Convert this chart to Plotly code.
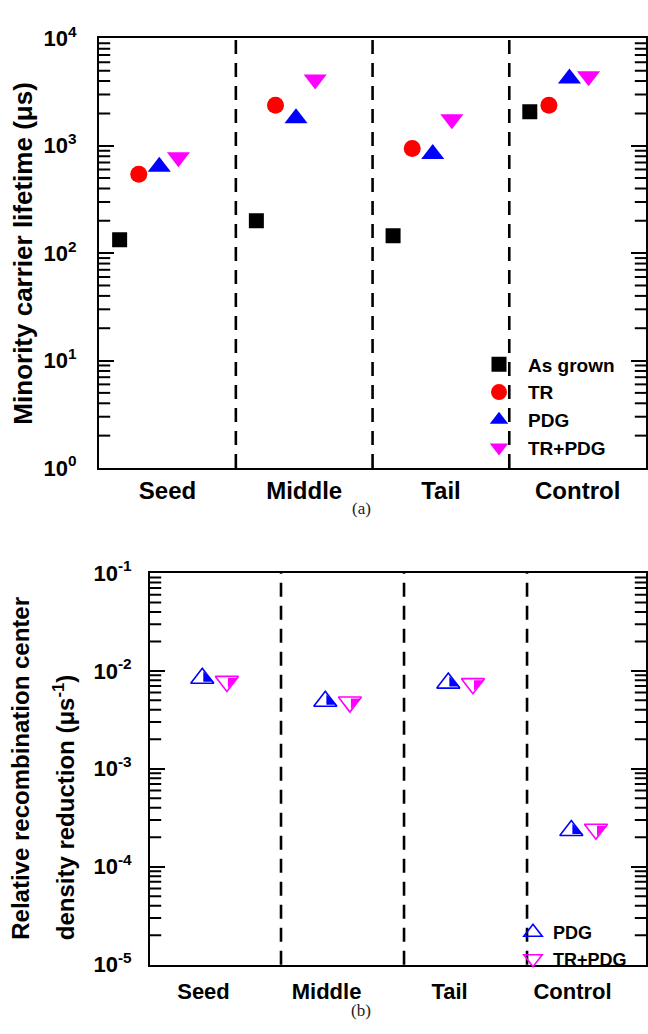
import numpy as np
import plotly.graph_objects as go

# ---------------- data ----------------
categories = ["Seed", "Middle", "Tail", "Control"]

# (a) minority carrier lifetime (us)
as_grown = [133, 200, 145, 2070]
tr = [542, 2380, 945, 2380]
pdg = [636, 1800, 839, 4230]
tr_pdg = [783, 4140, 1763, 4440]

# (b) relative recombination center density reduction (us^-1)
pdg_rel = [8.4e-3, 4.9e-3, 7.5e-3, 2.34e-4]
tr_pdg_rel = [7.8e-3, 4.8e-3, 7.4e-3, 2.41e-4]

top_ticks = [1, 10, 100, 1000, 10000]
top_ticktext = ["10<sup>0</sup>", "10<sup>1</sup>", "10<sup>2</sup>", "10<sup>3</sup>", "10<sup>4</sup>"]
bot_ticks = [1e-5, 1e-4, 1e-3, 1e-2, 1e-1]
bot_ticktext = ["10<sup>-5</sup>", "10<sup>-4</sup>", "10<sup>-3</sup>", "10<sup>-2</sup>", "10<sup>-1</sup>"]

# minor ticks at 2..9 within each decade
top_minor = [float(m * t) for t in top_ticks[:-1] for m in range(2, 10)]
bot_minor = [float(m * t) for t in bot_ticks[:-1] for m in range(2, 10)]

# ---------------- layout geometry ----------------
W, H = 648, 1034
FONT = "Liberation Sans, Arial, sans-serif"
SERIF = "Liberation Serif, Times New Roman, serif"

def px_x(p):
    return p / W

def px_y(p):
    return (H - p) / H

idx = np.arange(len(categories))

top_dom_x = [px_x(99), px_x(646)]
top_dom_y = [px_y(465), px_y(23)]
top_range_x = [-0.001, 4.0]
bot_dom_x = [px_x(150), px_x(646)]
bot_dom_y = [px_y(976), px_y(573)]
bot_range_x = [-0.065, 3.967]
bot_px_per_unit = (646 - 150) / (bot_range_x[1] - bot_range_x[0])

fig = go.Figure()

top_series = [
    ("As grown", as_grown, "square", "#000000", 15, 0.15),
    ("TR", tr, "circle", "#ff0000", 17, 0.29),
    ("PDG", pdg, "triangle-up", "#0000ff", 20, 0.44),
    ("TR+PDG", tr_pdg, "triangle-down", "#ff00ff", 20, 0.58),
]
for name, vals, sym, col, size, off in top_series:
    fig.add_trace(go.Scatter(
        x=idx + off, y=vals, mode="markers", name=name,
        marker=dict(symbol=sym, color=col, size=size, line=dict(width=0)),
        xaxis="x", yaxis="y", legend="legend"))

# (b) half-filled triangles: open outline + filled right half
TRI = 20
r = TRI / 2
half_size = 1.15 * r
half_dx = 0.45 * r / bot_px_per_unit
bot_series = [
    ("PDG", pdg_rel, "triangle-up-open", "triangle-sw", "#0000ff", 0.36),
    ("TR+PDG", tr_pdg_rel, "triangle-down-open", "triangle-nw", "#ff00ff", 0.56),
]
for name, vals, sym, halfsym, col, off in bot_series:
    fig.add_trace(go.Scatter(
        x=idx + off, y=vals, mode="markers", name=name,
        marker=dict(symbol=sym, color=col, size=TRI, line=dict(width=1.6, color=col)),
        xaxis="x2", yaxis="y2", legend="legend2"))
    fig.add_trace(go.Scatter(
        x=idx + off + half_dx, y=vals, mode="markers", showlegend=False,
        marker=dict(symbol=halfsym, color=col, size=half_size, line=dict(width=0)),
        xaxis="x2", yaxis="y2", hoverinfo="skip"))

# minor ticks: short horizontal dashes on both frame edges, clipped to the plot area
for xa, ya, rng, vals in [("x", "y", top_range_x, top_minor),
                          ("x2", "y2", bot_range_x, bot_minor)]:
    eps = (rng[1] - rng[0]) * 1e-5
    fig.add_trace(go.Scatter(
        x=[rng[0] + eps] * len(vals) + [rng[1] - eps] * len(vals), y=vals + vals,
        mode="markers", cliponaxis=True, showlegend=False, hoverinfo="skip",
        marker=dict(symbol="line-ew", size=16, color="black",
                    line=dict(width=2, color="black")),
        xaxis=xa, yaxis=ya))

# dashed separators
for ax in ["", "2"]:
    for k in range(1, len(categories)):
        fig.add_shape(type="line", xref="x" + ax, yref="y" + ax + " domain",
                      x0=k, x1=k, y0=0, y1=1,
                      line=dict(color="black", width=2.6, dash="14px,9px"))

axis_common = dict(showline=True, linewidth=2, linecolor="black", showgrid=False,
                   zeroline=False)
tickfont_cat = dict(family=FONT, size=24, color="black", weight="bold")
tickfont_num = dict(family=FONT, size=22, color="black", weight="bold")

fig.update_layout(
    width=W, height=H, margin=dict(l=0, r=0, t=0, b=0),
    paper_bgcolor="white", plot_bgcolor="white",
    font=dict(family=FONT, color="black"),
    xaxis=dict(domain=top_dom_x, range=top_range_x, anchor="y", mirror=True,
               ticks="", tickvals=idx + 0.5, ticktext=categories,
               tickfont=tickfont_cat, ticklabelstandoff=0, **axis_common),
    yaxis=dict(domain=top_dom_y, type="log", range=[0, 4], anchor="x",
               tickvals=top_ticks, ticktext=top_ticktext, tickfont=tickfont_num,
               ticks="inside", ticklen=15, tickwidth=2, tickcolor="black",
               mirror="ticks", ticklabelstandoff=16, **axis_common),
    xaxis2=dict(domain=bot_dom_x, range=bot_range_x, anchor="y2", mirror=True,
                ticks="", tickvals=idx + 0.37, ticktext=categories,
                tickfont=dict(family=FONT, size=22, color="black", weight="bold"),
                ticklabelstandoff=6, **axis_common),
    yaxis2=dict(domain=bot_dom_y, type="log", range=[-5, -1], anchor="x2",
                tickvals=bot_ticks, ticktext=bot_ticktext, tickfont=tickfont_num,
                ticks="inside", ticklen=15, tickwidth=2, tickcolor="black",
                mirror="ticks", ticklabelstandoff=12, **axis_common),
    legend=dict(x=px_x(470), y=px_y(339), xanchor="left", yanchor="top",
                bgcolor="rgba(0,0,0,0)", borderwidth=0,
                font=dict(family=FONT, size=19, color="black", weight="bold"),
                itemwidth=48, tracegroupgap=0),
    legend2=dict(x=px_x(513), y=px_y(924), xanchor="left", yanchor="top",
                 bgcolor="rgba(0,0,0,0)", borderwidth=0,
                 font=dict(family=FONT, size=18, color="black", weight="bold"),
                 itemwidth=30, tracegroupgap=0),
    showlegend=True,
)

annotations = [
    dict(text="Minority carrier lifetime (μs)", x=px_x(23.5), y=px_y(245),
         textangle=-90, font=dict(family=FONT, size=26, color="black", weight="bold")),
    dict(text="Relative recombination center", x=px_x(21), y=px_y(953),
         yanchor="bottom", textangle=-90,
         font=dict(family=FONT, size=24, color="black", weight="bold")),
    dict(text="density reduction (μs<sup>-1</sup>)", x=px_x(64), y=px_y(953),
         yanchor="bottom", textangle=-90,
         font=dict(family=FONT, size=24, color="black", weight="bold")),
    dict(text="(a)", x=px_x(361), y=px_y(507),
         font=dict(family=SERIF, size=17, color="#222222")),
    dict(text="(b)", x=px_x(361), y=px_y(1023),
         font=dict(family=SERIF, size=17, color="#222222")),
]
for a in annotations:
    a.update(xref="paper", yref="paper", showarrow=False)
    a.setdefault("xanchor", "center")
    a.setdefault("yanchor", "middle")
fig.update_layout(annotations=annotations)

fig.write_html("out.html")
